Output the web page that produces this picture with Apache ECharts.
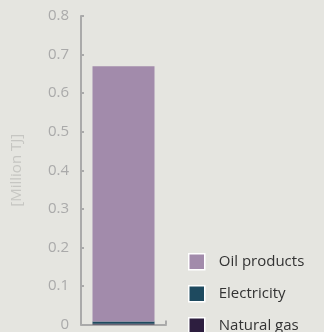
<!DOCTYPE html>
<html><head><meta charset="utf-8">
<script src="https://cdn.jsdelivr.net/npm/echarts@6/dist/echarts.min.js"></script>
<style>html,body{margin:0;padding:0;background:#e5e5e0;}#c{width:324px;height:332px;}</style>
</head><body><div id="c"></div>
<script>
const categories = ['Total'];
const naturalGas = [0.002];
const electricity = [0.006];
const oilProducts = [0.662];
const yTicks = ['0','0.1','0.2','0.3','0.4','0.5','0.6','0.7','0.8'];

const chart = echarts.init(document.getElementById('c'));
const font = 'Open Sans';
chart.setOption({
  backgroundColor: '#e5e5e0',
  animation: false,
  grid: {left: 81, right: 158, top: 16, bottom: 6},
  legend: {
    orient: 'vertical', left: 188, top: 253, height: 100, padding: 0,
    itemWidth: 16, itemHeight: 16, itemGap: 14.5,
    icon: 'rect',
    data: ['Oil products','Electricity','Natural gas'],
    textStyle: {color: '#333', fontSize: 15, lineHeight: 16, fontFamily: font, padding: [0,0,0,9]},
    itemStyle: {borderColor: '#fff', borderWidth: 1.5}
  },
  xAxis: {
    type: 'category', data: categories,
    axisLine: {lineStyle: {color: '#aaa', width: 2}},
    axisTick: {show: true, inside: true, length: 4, lineStyle: {color: '#aaa', width: 2}},
    axisLabel: {show: false}
  },
  yAxis: {
    type: 'value', min: 0, max: 0.8, interval: 0.1,
    name: '[Million TJ]', nameLocation: 'middle', nameGap: 57, nameRotate: 90,
    nameTextStyle: {color: '#c6c6c2', fontSize: 15, fontFamily: font},
    axisLine: {show: true, lineStyle: {color: '#aaa', width: 2}},
    axisTick: {show: true, inside: true, length: 3, lineStyle: {color: '#aaa', width: 2}},
    splitLine: {show: false},
    axisLabel: {color: '#aaa', fontSize: 15, fontFamily: font, margin: 12,
      formatter: (v) => yTicks[Math.round(v * 10)]}
  },
  series: [
    {name: 'Natural gas', type: 'bar', stack: 's', data: naturalGas, barWidth: 62, itemStyle: {color: '#2d1e3f'}},
    {name: 'Electricity', type: 'bar', stack: 's', data: electricity, itemStyle: {color: '#1e4a5f'}},
    {name: 'Oil products', type: 'bar', stack: 's', data: oilProducts, itemStyle: {color: '#a28bab'}}
  ]
});
</script></body></html>
